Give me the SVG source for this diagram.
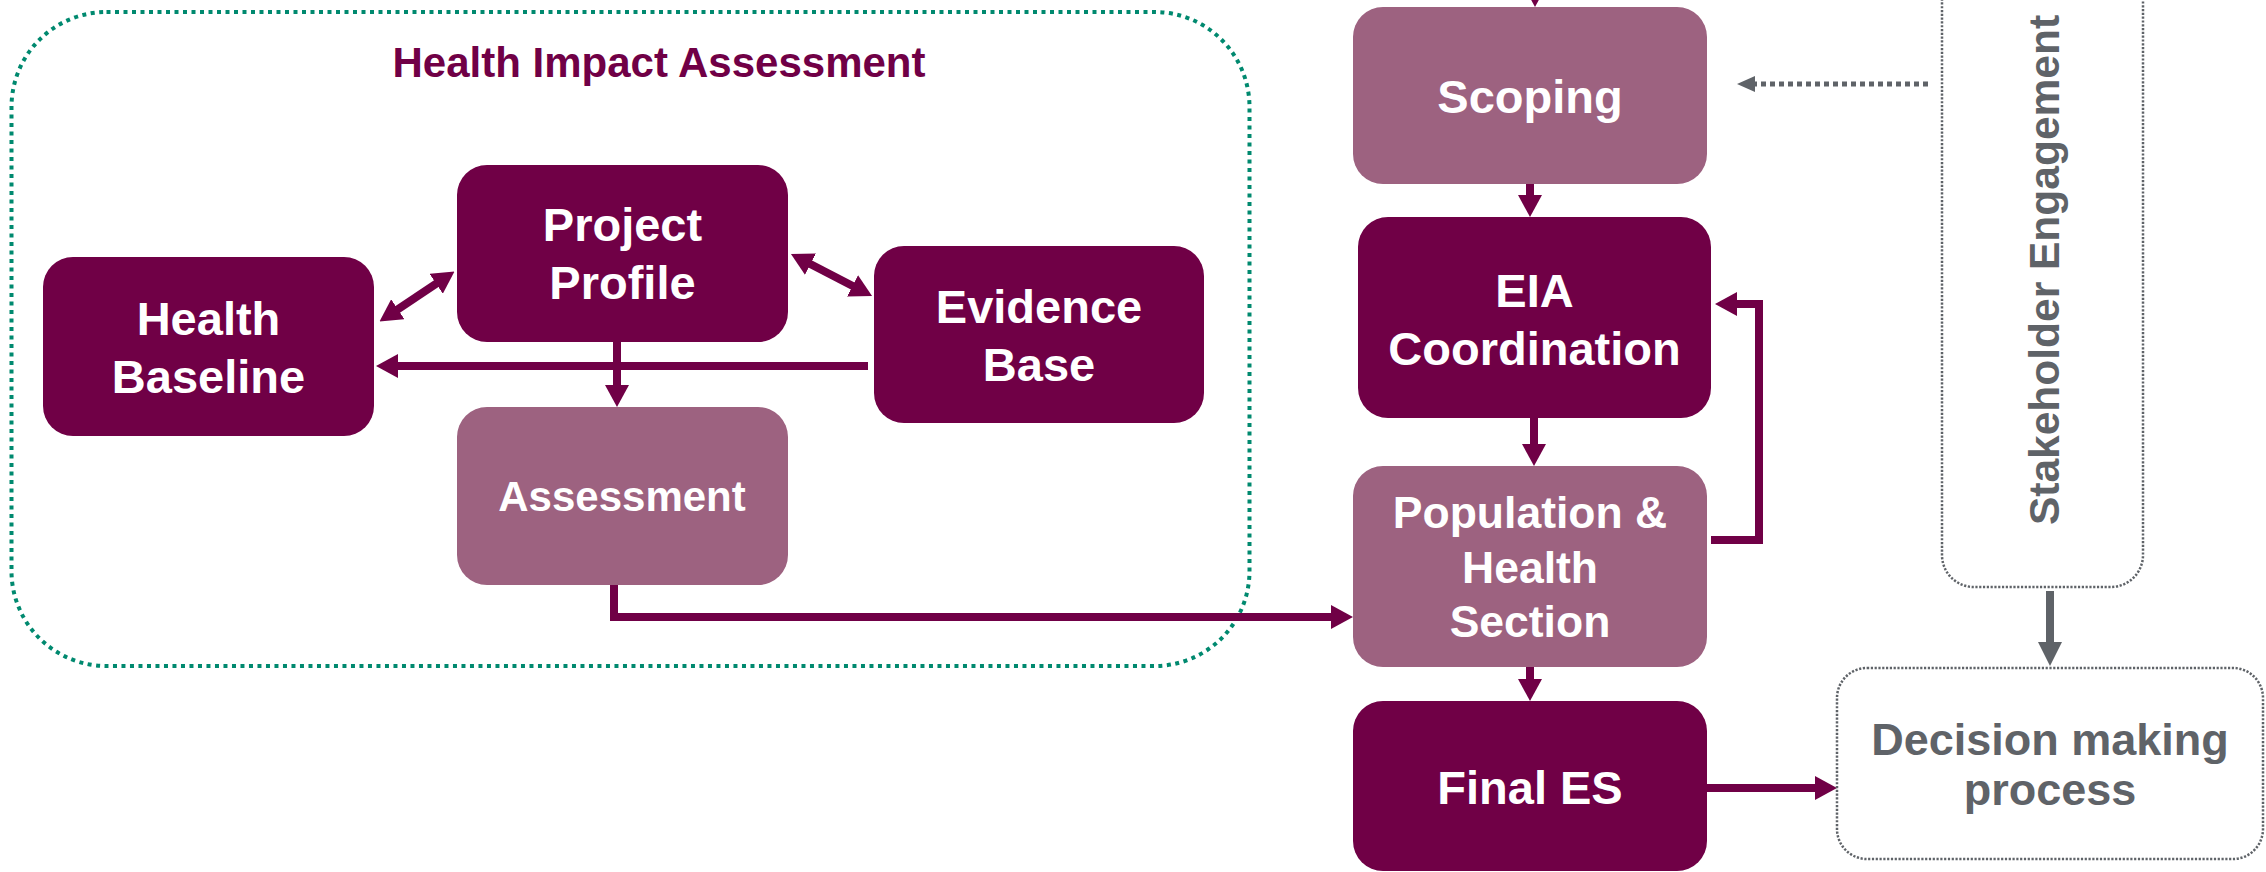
<svg xmlns="http://www.w3.org/2000/svg" width="2266" height="872" viewBox="0 0 2266 872">
  <style>
    .dark { fill: #700046; }
    .light { fill: #9D6280; }
    .ntext { font-family: "Liberation Sans", Arial, sans-serif; font-weight: bold; fill: #ffffff; text-anchor: middle; }
    .gtext { font-family: "Liberation Sans", Arial, sans-serif; font-weight: bold; fill: #5F6368; text-anchor: middle; }
    .conn { fill: none; stroke: #700046; stroke-width: 8; }
    .gconn { fill: none; stroke: #5F6368; }
    .dotbox { fill: none; stroke: #5F6368; stroke-width: 2.5; stroke-dasharray: 2.2 1.6; }
  </style>
  <defs>
    <marker id="ah" markerUnits="userSpaceOnUse" viewBox="0 0 22 24" refX="10" refY="12" markerWidth="22" markerHeight="24" orient="auto-start-reverse">
      <path d="M0,0 L22,12 L0,24 z" fill="#700046"/>
    </marker>
    <marker id="gah" markerUnits="userSpaceOnUse" viewBox="0 0 24 24" refX="10" refY="12" markerWidth="24" markerHeight="24" orient="auto">
      <path d="M0,0 L24,12 L0,24 z" fill="#5F6368"/>
    </marker>
    <marker id="gah2" markerUnits="userSpaceOnUse" viewBox="0 0 18 16" refX="8" refY="8" markerWidth="18" markerHeight="16" orient="auto">
      <path d="M0,0 L18,8 L0,16 z" fill="#5F6368"/>
    </marker>
  </defs>

  <g id="hia-container">
    <rect x="11.5" y="12" width="1238" height="654" rx="95" ry="95" fill="none" stroke="#00896F" stroke-width="4" stroke-dasharray="4 4.5"/>
    <text x="659" y="77" font-family="Liberation Sans, Arial, sans-serif" font-weight="bold" font-size="42" fill="#700046" text-anchor="middle">Health Impact Assessment</text>
  </g>

  <g id="connectors">
    <!-- Health Baseline <-> Project Profile -->
    <path class="conn" d="M389.5,314.8 L444.5,278.2" marker-start="url(#ah)" marker-end="url(#ah)"/>
    <!-- Project Profile <-> Evidence Base -->
    <path class="conn" d="M801.6,259.5 L861.4,290.5" marker-start="url(#ah)" marker-end="url(#ah)"/>
    <!-- Evidence Base -> Health Baseline -->
    <path class="conn" d="M868,366 L388,366" marker-end="url(#ah)"/>
    <!-- Project Profile -> Assessment -->
    <path class="conn" d="M617,342 L617,395" marker-end="url(#ah)"/>
    <!-- Assessment -> Population & Health Section -->
    <path class="conn" d="M614,585 L614,617 L1341,617" marker-end="url(#ah)"/>
    <!-- incoming to Scoping -->
    <path class="conn" d="M1535,-40 L1535,-5" marker-end="url(#ah)"/>
    <!-- Scoping -> EIA -->
    <path class="conn" d="M1530,184 L1530,205" marker-end="url(#ah)"/>
    <!-- EIA -> Population -->
    <path class="conn" d="M1534,418 L1534,454" marker-end="url(#ah)"/>
    <!-- Population -> Final ES -->
    <path class="conn" d="M1530,667 L1530,689" marker-end="url(#ah)"/>
    <!-- Population -> EIA loop -->
    <path class="conn" d="M1711,540 L1759,540 L1759,304 L1727,304" marker-end="url(#ah)"/>
    <!-- Final ES -> Decision -->
    <path class="conn" d="M1707,788 L1825,788" marker-end="url(#ah)"/>
    <!-- Stakeholder -> Scoping (dashed) -->
    <path class="gconn" d="M1928,84 L1747,84" stroke-width="5" stroke-dasharray="5 4" marker-end="url(#gah2)"/>
    <!-- Stakeholder -> Decision -->
    <path class="gconn" d="M2050,591 L2050,652" stroke-width="8" marker-end="url(#gah)"/>
  </g>

  <g id="health-baseline">
    <rect class="dark" x="43" y="257" width="331" height="179" rx="30" ry="30"/>
    <text class="ntext" font-size="47"><tspan x="208.5" y="335">Health</tspan><tspan x="208.5" y="393">Baseline</tspan></text>
  </g>

  <g id="project-profile">
    <rect class="dark" x="457" y="165" width="331" height="177" rx="30" ry="30"/>
    <text class="ntext" font-size="47"><tspan x="622.5" y="241">Project</tspan><tspan x="622.5" y="299">Profile</tspan></text>
  </g>

  <g id="evidence-base">
    <rect class="dark" x="874" y="246" width="330" height="177" rx="30" ry="30"/>
    <text class="ntext" font-size="47"><tspan x="1039" y="323">Evidence</tspan><tspan x="1039" y="381">Base</tspan></text>
  </g>

  <g id="assessment">
    <rect class="light" x="457" y="407" width="331" height="178" rx="30" ry="30"/>
    <text class="ntext" x="622" y="511" font-size="42">Assessment</text>
  </g>

  <g id="scoping">
    <rect class="light" x="1353" y="7" width="354" height="177" rx="30" ry="30"/>
    <text class="ntext" x="1530" y="113" font-size="47">Scoping</text>
  </g>

  <g id="eia-coordination">
    <rect class="dark" x="1358" y="217" width="353" height="201" rx="30" ry="30"/>
    <text class="ntext" font-size="47"><tspan x="1534.5" y="307">EIA</tspan><tspan x="1534.5" y="365">Coordination</tspan></text>
  </g>

  <g id="population-health">
    <rect class="light" x="1353" y="466" width="354" height="201" rx="30" ry="30"/>
    <text class="ntext" font-size="44.5"><tspan x="1530" y="528">Population &amp;</tspan><tspan x="1530" y="583">Health</tspan><tspan x="1530" y="637">Section</tspan></text>
  </g>

  <g id="final-es">
    <rect class="dark" x="1353" y="701" width="354" height="170" rx="30" ry="30"/>
    <text class="ntext" x="1530" y="804" font-size="47">Final ES</text>
  </g>

  <g id="stakeholder-engagement">
    <rect class="dotbox" x="1942" y="-60" width="201" height="647" rx="32" ry="32"/>
    <text class="gtext" font-size="42.5" transform="translate(2059,270) rotate(-90)" x="0" y="0">Stakeholder Engagement</text>
  </g>

  <g id="decision-making">
    <rect class="dotbox" x="1837" y="668" width="426" height="191" rx="30" ry="30"/>
    <text class="gtext" font-size="45"><tspan x="2050" y="755">Decision making</tspan><tspan x="2050" y="805">process</tspan></text>
  </g>
</svg>
